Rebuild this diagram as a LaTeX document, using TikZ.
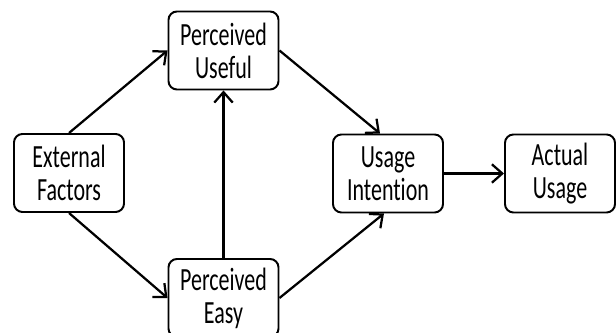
\documentclass[tikz,border=0pt]{standalone}
\usepackage{fontspec}
\newfontfamily\boxfont{Carlito}[FakeStretch=0.68,Ligatures={NoCommon,NoRequired}]
\usetikzlibrary{backgrounds,arrows.meta}
\pgfdeclarelayer{edgelayer}
\pgfdeclarelayer{nodelayer}
\pgfsetlayers{edgelayer,nodelayer,main}
\tikzset{font=\boxfont\fontsize{23}{23.5}\selectfont}
\tikzstyle{none}=[inner sep=0pt]
\tikzstyle{box}=[draw,line width=1.4pt,rounded corners=6pt,minimum width=2.75cm,minimum height=1.95cm,align=center,fill=white]
\tikzstyle{arr}=[draw,line width=1.6pt,-{Straight Barb[length=2.6mm,width=4.6mm]}]

\begin{document}
\begin{tikzpicture}
	\useasboundingbox (0,0) rectangle (15.4,-8.325);
	\begin{pgfonlayer}{nodelayer}
		\node [style=box] (0) at (1.725, -4.325) {External\\Factors};
		\node [style=box] (1) at (5.5875, -1.2625) {Perceived\\Useful};
		\node [style=box] (2) at (5.5875, -7.45) {Perceived\\Easy};
		\node [style=box] (3) at (9.7, -4.3375) {Usage\\Intention};
		\node [style=box] (4) at (14.0, -4.3375) {Actual\\Usage};
	\end{pgfonlayer}
	\begin{pgfonlayer}{edgelayer}
		\draw [style=arr] (0.north) to (1.west);
		\draw [style=arr] (0.south) to (2.west);
		\draw [style=arr] (2.north) to (1.south);
		\draw [style=arr] (1.east) to ([xshift=-0.2cm]3.north);
		\draw [style=arr] (2.east) to ([xshift=-0.1cm]3.south);
		\draw [style=arr] (3.east) to (4.west);
	\end{pgfonlayer}
\end{tikzpicture}
\end{document}
